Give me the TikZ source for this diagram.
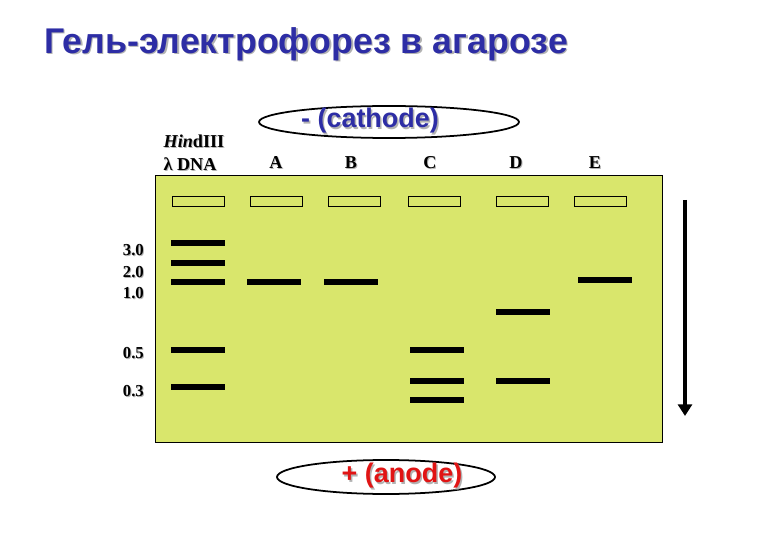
\documentclass[tikz,border=0pt]{standalone}
\usepackage{fontspec}
\setmainfont{Liberation Serif}
\newfontfamily\arialfont{Liberation Sans}
\usetikzlibrary{shapes.geometric,arrows.meta,calc}
\definecolor{gelgreen}{RGB}{217,230,108}
\definecolor{titleblue}{RGB}{45,45,165}
\definecolor{anodered}{RGB}{225,20,20}
\tikzset{
  band/.style={line width=5pt},
  well/.style={draw,thin,fill=gelgreen},
  lanelbl/.style={font=\fontsize{15.5}{18}\selectfont\bfseries},
  sizelbl/.style={font=\fontsize{14.3}{16}\selectfont\bfseries,anchor=east},
  pole/.style={draw,line width=1.5pt,ellipse,fill=white},
}
\newcommand{\shadowtext}[4]{% position, colour, font, text
  \node[text=gray!60,font=#3] at ($#1+(1.5,1.5)$) {#4};
  \node[text=#2,font=#3] at #1 {#4};
}
\begin{document}
\begin{tikzpicture}[x=0.03cm,y=-0.03cm]
    \useasboundingbox (0,0) rectangle (780,540);
    % titolo
    \shadowtext{(306,44)}{titleblue}{\arialfont\bfseries\fontsize{30.5}{34}\selectfont}{Гель-электрофорез в агарозе}

    % gel
    \node[draw,fill=gelgreen,minimum width=507*0.03cm,minimum height=267*0.03cm,inner sep=0pt,anchor=north west] (gel) at (155,175) {};

    % pozzetti e nomi delle corsie
    \foreach \x in {198,276,354,434,522,600}{
        \draw[well] (\x-26,196) rectangle (\x+26,206);
    }
    \foreach \x/\name in {276/A,351/B,430/C,516/D,595/E}{
        \node[lanelbl,text=gray!60] at (\x+1,164) {\name};
        \node[lanelbl] (lane\name) at (\x,163) {\name};
    }
    \node[lanelbl,text=gray!60] at (195,142) {\textit{Hin}dIII};
    \node[lanelbl] (hind) at (194,141) {\textit{Hin}dIII};
    \node[lanelbl,text=gray!60] at (191,165) {λ DNA};
    \node[lanelbl] (lambda) at (190,164) {λ DNA};

    % bande
    \foreach \x/\y in {198/243,198/263,198/282,198/350,198/387,
                       274/282,351/282,
                       437/350,437/381,437/400,
                       523/312,523/381,
                       605/280}{
        \draw[band] (\x-27,\y) -- (\x+27,\y);
    }

    % dimensioni
    \foreach \y/\kb in {250/3.0,272/2.0,293/1.0,353/0.5,391/0.3}{
        \node[sizelbl,text=gray!60] at (149,\y+1) {\kb};
        \node[sizelbl] (kb\kb) at (148,\y) {\kb};
    }

    % elettrodi
    \node[pole,minimum width=260*0.03cm,minimum height=32*0.03cm] (cathode) at (389,122) {};
    \shadowtext{(370,121)}{titleblue}{\arialfont\bfseries\fontsize{23}{26}\selectfont}{- (cathode)}
    \node[pole,minimum width=218*0.03cm,minimum height=34*0.03cm] (anode) at (386,477) {};
    \shadowtext{(402,476)}{anodered}{\arialfont\bfseries\fontsize{23}{26}\selectfont}{+ (anode)}

    % direzione di migrazione
    \coordinate (top) at (685,200);
    \coordinate (bottom) at (685,416);
    \draw[line width=3.5pt,-{Triangle[length=10pt,width=12pt]}] (top) -- (bottom);
\end{tikzpicture}
\end{document}
